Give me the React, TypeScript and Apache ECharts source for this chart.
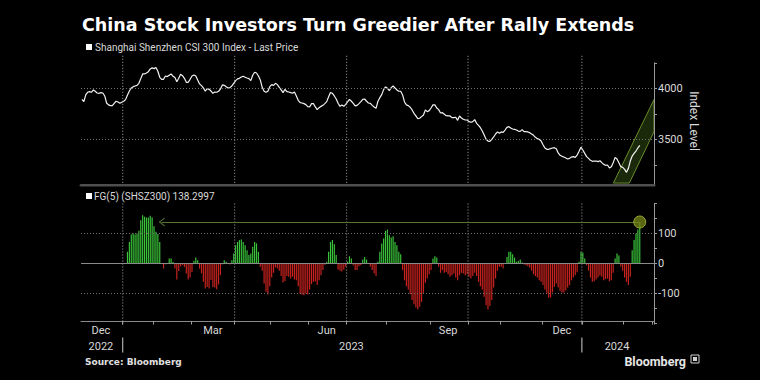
import React, { useEffect, useRef } from "react";
import * as echarts from "echarts";

const TITLE = "China Stock Investors Turn Greedier After Rally Extends";
const PRICE_LEGEND = "Shanghai Shenzhen CSI 300 Index - Last Price";
const FG_LEGEND = "FG(5) (SHSZ300) 138.2997";
const AXIS_NAME = "Index Level";
const SOURCE = "Source: Bloomberg";
const BRAND = "Bloomberg";

const FIRST_DAY = "2022-12-01";
const LAST_DAY = "2024-03-01";
const MARKET_HOLIDAYS = [
  "2023-01-02", "2023-01-23", "2023-01-24", "2023-01-25", "2023-01-26", "2023-01-27",
  "2023-04-05", "2023-05-01", "2023-05-02", "2023-05-03", "2023-06-22", "2023-06-23",
  "2023-09-29", "2023-10-02", "2023-10-03", "2023-10-04", "2023-10-05", "2023-10-06",
  "2024-01-01", "2024-02-09", "2024-02-12", "2024-02-13", "2024-02-14", "2024-02-15", "2024-02-16",
];

// CSI 300 daily close, one value per trading day from 2022-12-01
const csi300Close = [
  3892, 3869, 3935, 3961, 3967, 3961, 3984, 3971, 3954, 3951,
  3958, 3954, 3925, 3856, 3837, 3830, 3830, 3853, 3873, 3866,
  3853, 3863, 3873, 3889, 3935, 3974, 4003, 4016, 4023, 4029,
  4049, 4095, 4141, 4141, 4150, 4163, 4190, 4200, 4193, 4203,
  4167, 4108, 4088, 4088, 4121, 4115, 4128, 4141, 4118, 4105,
  4065, 4098, 4137, 4124, 4098, 4059, 4059, 4088, 4121, 4131,
  4121, 4082, 4043, 4026, 4003, 3971, 3997, 3990, 3974, 3951,
  3964, 3961, 3971, 3993, 4033, 4029, 4016, 4003, 4007, 4023,
  4049, 4075, 4092, 4098, 4111, 4118, 4108, 4101, 4095, 4075,
  4128, 4157, 4150, 4121, 4082, 4010, 3971, 3961, 3971, 4016,
  4036, 4029, 4049, 4036, 4010, 3984, 3958, 3990, 3967, 3964,
  3958, 3951, 3964, 3925, 3882, 3859, 3856, 3850, 3840, 3820,
  3817, 3850, 3850, 3817, 3791, 3810, 3823, 3833, 3850, 3869,
  3918, 3958, 3951, 3925, 3895, 3853, 3823, 3837, 3823, 3843,
  3866, 3892, 3873, 3853, 3827, 3833, 3850, 3869, 3892, 3895,
  3873, 3856, 3853, 3833, 3817, 3804, 3873, 3908, 3938, 3987,
  4013, 4000, 3977, 4007, 4023, 4003, 3984, 3971, 3971, 3935,
  3866, 3837, 3830, 3814, 3788, 3755, 3729, 3702, 3706, 3722,
  3738, 3788, 3771, 3781, 3807, 3837, 3837, 3807, 3791, 3758,
  3761, 3745, 3732, 3729, 3729, 3712, 3712, 3716, 3686, 3729,
  3709, 3696, 3689, 3689, 3673, 3667, 3673, 3693, 3657, 3637,
  3614, 3581, 3542, 3500, 3483, 3480, 3500, 3523, 3552, 3572,
  3559, 3572, 3568, 3591, 3617, 3624, 3611, 3601, 3598, 3591,
  3581, 3578, 3595, 3575, 3575, 3572, 3565, 3552, 3539, 3519,
  3506, 3500, 3483, 3447, 3415, 3402, 3402, 3408, 3415, 3418,
  3408, 3366, 3343, 3333, 3326, 3317, 3307, 3313, 3326, 3330,
  3323, 3346, 3382, 3421, 3395, 3362, 3330, 3313, 3294, 3284,
  3287, 3287, 3281, 3290, 3271, 3254, 3245, 3248, 3219, 3232,
  3271, 3323, 3307, 3271, 3232, 3225, 3205, 3176, 3215, 3287,
  3336, 3362, 3385, 3415, 3441,
];

// Fear & Greed FG(5), one value per trading day from 2022-12-01
const fearGreed5 = [
  null, null, null, null, null, null, null, null, null, null,
  null, null, null, null, null, null, null, null, null, null,
  null, null, null, null,
  39, 72, 97, 100, 97, 100, 109, 144, 161, 156,
  153, 153, 159, 153, 124, 106, 98, 72, 2, -17,
  -3, 2, 17, 17, 5, -17, -53, -25, -10, -5,
  -12, -33, -53, -47, -28, 8, 20, 11, -17, -33,
  -61, -83, -78, -83, -55, -78, -80, -86, -70, -39,
  -3, 11, 6, 1, -3, 11, 33, 61, 72, 78,
  80, 72, 61, 44, 28, 33, 56, 72, 67, 39,
  -11, -24, -67, -94, -103, -76, -47, -31, -13, -17,
  -24, -42, -63, -58, -42, -44, -50, -44, -53, -56,
  -76, -102, -104, -106, -100, -103, -87, -69, -61, -60,
  -72, -56, -39, -22, -4, 6, 39, 72, 78, 64,
  28, -20, -24, -27, -20, -11, 6, 24, 17, -6,
  -22, -22, -9, -6, 13, 22, 13, 2, -11, -22,
  -33, -42, 6, 39, 67, 83, 109, 113, 94, 87,
  91, 72, 61, 39, 31, -22, -56, -76, -87, -102,
  -122, -136, -147, -153, -144, -128, -98, -64, -50, -36,
  -22, 17, 24, 20, -11, -31, -22, -31, -28, -36,
  -44, -39, -33, -47, -56, -39, -31, -33, -39, -36,
  -44, -50, -42, -31, -42, -61, -76, -87, -111, -139,
  -153, -142, -122, -80, -50, -24, -11, -11, -17, 2,
  22, 39, 39, 31, 20, 6, 8, 13, 3, -3,
  -6, -9, -14, -24, -36, -42, -47, -56, -61, -72,
  -87, -100, -114, -113, -96, -78, -67, -80, -91, -97,
  -97, -89, -80, -72, -56, -47, -39, -29, 6, 39,
  36, 17, -6, -24, -47, -61, -59, -53, -47, -40,
  -44, -56, -52, -50, -59, -56, -31, 17, 33, 27,
  -11, -24, -47, -61, -72, -44, 44, 78, 100, 113,
  138.2997,
];

const priceLabelTicks = [3500, 4000];
const fgLabelTicks = [-100, 0, 100];
const fgDottedLines = [100, -100];
const labelMonths = ["2022-12", "2023-03", "2023-06", "2023-09", "2023-12"];
const quarterBoundaries = ["2023-01-01", "2023-04-01", "2023-07-01", "2023-10-01", "2024-01-01"];
const yearBoundaries = ["2023-01-01", "2024-01-01"];
const MONTH_NAMES = ["Jan", "Feb", "Mar", "Apr", "May", "Jun", "Jul", "Aug", "Sep", "Oct", "Nov", "Dec"];
// channel annotation corners, in [category index, index level]
const channelCorners = [[280.1, 3071], [301.5, 3890], [301.5, 3575], [288.5, 3071]];
const arrowStartIndex = 42;

const GREEN = "#3ac43a";
const RED = "#c9231f";
const OLIVE = "#577535";

function tradingDays(start: string, end: string, holidays: string[]): string[] {
  const out: string[] = [];
  const hol = new Set(holidays);
  let t = Date.parse(start + "T00:00:00Z");
  const e = Date.parse(end + "T00:00:00Z");
  while (t <= e) {
    const d = new Date(t);
    const wd = d.getUTCDay();
    const s = d.toISOString().slice(0, 10);
    if (wd !== 0 && wd !== 6 && !hol.has(s)) out.push(s);
    t += 86400000;
  }
  return out;
}

const dates = tradingDays(FIRST_DAY, LAST_DAY, MARKET_HOLIDAYS);
const firstIndexOnOrAfter = (day: string) => dates.findIndex((d) => d >= day);

function baseGraphics(): any[] {
  return [
    { type: "rect", z: 100, shape: { x: 75, y: 186.6, width: 620, height: 4.5 }, style: { fill: "#000" } },
    { type: "text", z: 101, x: 82, y: 24.5, style: { text: TITLE, fill: "#ffffff", fontFamily: "DejaVu Sans", fontWeight: "bold", fontSize: 17.5, align: "left", verticalAlign: "middle" } },
    { type: "rect", z: 101, shape: { x: 86, y: 44, width: 6, height: 6 }, style: { fill: "#ffffff" } },
    { type: "text", z: 101, x: 95, y: 47, style: { text: PRICE_LEGEND, fill: "#d9d9d9", fontFamily: "Roboto", fontSize: 10, align: "left", verticalAlign: "middle" } },
    { type: "rect", z: 101, shape: { x: 86, y: 193, width: 6, height: 6 }, style: { fill: "#ffffff" } },
    { type: "text", z: 101, x: 94, y: 196, style: { text: FG_LEGEND, fill: "#d9d9d9", fontFamily: "Roboto", fontSize: 10, align: "left", verticalAlign: "middle" } },
    { type: "text", z: 101, x: 694, y: 121, rotation: -Math.PI / 2, style: { text: AXIS_NAME, fill: "#d9d9d9", fontFamily: "Roboto", fontSize: 12, align: "center", verticalAlign: "middle" } },
    { type: "text", z: 101, x: 85, y: 362, style: { text: SOURCE, fill: "#e0e0e0", fontFamily: "DejaVu Sans", fontWeight: "bold", fontSize: 9, align: "left", verticalAlign: "middle" } },
    { type: "text", z: 101, x: 686, y: 361, style: { text: BRAND, fill: "#e6e6e6", fontFamily: "Roboto", fontWeight: "bold", fontSize: 12.5, align: "right", verticalAlign: "middle" } },
    { type: "rect", z: 101, shape: { x: 691, y: 355, width: 8, height: 8 }, style: { fill: "none", stroke: "#cfcfcf", lineWidth: 1 } },
    { type: "rect", z: 101, shape: { x: 693, y: 357, width: 4, height: 4 }, style: { fill: "#cfcfcf" } },
  ];
}

function buildOption() {
  const monthKey = (i: number) => dates[i].slice(0, 7);
  const isMonthStart = (i: number) => i > 0 && monthKey(i) !== monthKey(i - 1);

  const mid = (pred: (d: string) => boolean) => {
    const idx = dates.map((d, i) => (pred(d) ? i : -1)).filter((i) => i >= 0);
    return idx[Math.floor((idx.length - 1) / 2)];
  };
  const monthLabelIdx = new Set(labelMonths.map((m) => mid((d) => d.startsWith(m))));
  const years = Array.from(new Set(dates.map((d) => d.slice(0, 4))));
  const yearLabelIdx = new Set(years.map((y) => mid((d) => d.startsWith(y))));

  const lastIdx = fearGreed5.length - 1;
  const lastFg = fearGreed5[lastIdx] as number;

  const labelFont = { color: "#d9d9d9", fontSize: 11, fontFamily: "Roboto" };
  const dotted = { color: "#707070", type: [1, 2] as any, width: 1 };

  return {
    backgroundColor: "#000",
    animation: false,
    grid: [
      { left: 81, right: 106, top: 62.8, height: 127.5 },
      { left: 81, right: 106, top: 203.5, height: 120 },
    ],
    xAxis: [
      {
        gridIndex: 0, type: "category", data: dates, boundaryGap: true, offset: -5.3,
        axisLine: { show: true, onZero: false, lineStyle: { color: "#4f4f4f", width: 3 } },
        axisTick: { show: false }, axisLabel: { show: false }, splitLine: { show: false },
      },
      {
        gridIndex: 1, type: "category", data: dates, boundaryGap: true, offset: -2,
        axisLine: { show: true, onZero: false, lineStyle: { color: "#8a8a8a", width: 1 } },
        axisTick: { show: true, interval: (i: number) => isMonthStart(i), length: 3, lineStyle: { color: "#a0a0a0" } },
        axisLabel: {
          ...labelFont, margin: 3,
          interval: (i: number) => monthLabelIdx.has(i),
          formatter: (v: string) => MONTH_NAMES[Number(v.slice(5, 7)) - 1],
        },
        splitLine: { show: false },
      },
      {
        gridIndex: 1, type: "category", data: dates, boundaryGap: true, position: "bottom", offset: 14,
        axisLine: { show: false, onZero: false },
        axisTick: { show: false },
        axisLabel: {
          ...labelFont, margin: 3,
          interval: (i: number) => yearLabelIdx.has(i),
          formatter: (v: string) => v.slice(0, 4),
        },
        splitLine: { show: false },
      },
    ],
    yAxis: [
      {
        gridIndex: 0, type: "value", position: "right", min: 3000, max: 4250, interval: 250,
        axisLine: { show: true, lineStyle: { color: "#9a9a9a" } },
        axisTick: { show: true, length: 3, lineStyle: { color: "#9a9a9a" } },
        axisLabel: { ...labelFont, margin: 4, formatter: (v: number) => (priceLabelTicks.includes(v) ? String(v) : "") },
        splitLine: { show: false },
      },
      {
        gridIndex: 1, type: "value", position: "right", min: -200, max: 200, interval: 50,
        axisLine: { show: true, lineStyle: { color: "#9a9a9a" } },
        axisTick: { show: true, length: 3, lineStyle: { color: "#9a9a9a" } },
        axisLabel: { ...labelFont, margin: 4, formatter: (v: number) => (fgLabelTicks.includes(v) ? String(v) : "") },
        splitLine: { show: false },
      },
    ],
    series: [
      {
        type: "custom", name: "channel", xAxisIndex: 0, yAxisIndex: 0, silent: true, clip: true, z: 1,
        data: [[0, 3500]],
        renderItem: (_p: any, api: any) => {
          const band = api.size([1, 0])[0];
          const pts = channelCorners.map(([idx, val]) => {
            const base = Math.floor(idx);
            const p = api.coord([base, val]);
            return [p[0] + (idx - base) * band, p[1]];
          });
          return { type: "polygon", shape: { points: pts }, style: { fill: "#1b290b", stroke: "#6a8c2c", lineWidth: 1 } };
        },
      },
      {
        type: "line", name: PRICE_LEGEND, xAxisIndex: 0, yAxisIndex: 0, data: csi300Close,
        symbol: "none", z: 3, lineStyle: { color: "#f2f2f2", width: 1.2 },
        markLine: {
          silent: true, symbol: "none", label: { show: false }, lineStyle: dotted,
          data: priceLabelTicks.map((v) => ({ yAxis: v })),
        },
      },
      {
        type: "bar", name: FG_LEGEND, xAxisIndex: 1, yAxisIndex: 1, data: fearGreed5,
        barWidth: "62%",
        itemStyle: { color: (p: any) => (p.value >= 0 ? GREEN : RED) },
        markLine: {
          silent: true, symbol: "none", label: { show: false }, lineStyle: dotted,
          data: [
            ...fgDottedLines.map((v) => ({ yAxis: v })),
            { yAxis: 0, lineStyle: { color: "#8a8a8a", type: "solid", width: 1 } },
            [
              { coord: [dates[arrowStartIndex], lastFg], symbol: "path://M0,10 L5,0 L10,10 L8.6,10 L5,2.6 L1.4,10 Z", symbolSize: [9, 6], lineStyle: { color: OLIVE, type: "solid", width: 1 } },
              { coord: [dates[lastIdx], lastFg], symbol: "none" },
            ],
          ],
        },
        markPoint: {
          silent: true, label: { show: false },
          data: [{
            coord: [dates[lastIdx], lastFg], symbol: "circle", symbolSize: 12,
            itemStyle: { color: "rgba(112,128,22,0.8)", borderColor: "#98a833", borderWidth: 1 },
          }],
        },
      },
    ],
    graphic: baseGraphics(),
  };
}

function boundaryLines(chart: any): any[] {
  const xOf = (i: number) => chart.convertToPixel({ xAxisIndex: 1 }, dates[i]) as number;
  const band = xOf(1) - xOf(0);
  const edge = (day: string) => xOf(firstIndexOnOrAfter(day)) - band / 2;
  const yTopA = (chart.convertToPixel({ yAxisIndex: 0 }, 4250) as number) - 7;
  const yBotA = chart.convertToPixel({ yAxisIndex: 0 }, 3071) as number;
  const yTopB = chart.convertToPixel({ yAxisIndex: 1 }, 200) as number;
  const yBotB = (chart.convertToPixel({ yAxisIndex: 1 }, -200) as number) - 2;
  const dot = { stroke: "#a8a8a8", lineWidth: 1, lineDash: [1, 2] };
  const out: any[] = [];
  quarterBoundaries.forEach((d) => {
    const x = edge(d);
    out.push({ type: "line", z: 5, silent: true, shape: { x1: x, y1: yTopA, x2: x, y2: yBotA }, style: dot });
    out.push({ type: "line", z: 5, silent: true, shape: { x1: x, y1: yTopB, x2: x, y2: yBotB }, style: dot });
  });
  yearBoundaries.forEach((d) => {
    const x = edge(d);
    out.push({ type: "line", z: 5, silent: true, shape: { x1: x, y1: yBotB + 16, x2: x, y2: yBotB + 31 }, style: { stroke: "#cfcfcf", lineWidth: 1 } });
    out.push({ type: "line", z: 5, silent: true, shape: { x1: x, y1: yBotB, x2: x, y2: yBotB + 3 }, style: { stroke: "#a0a0a0", lineWidth: 1 } });
  });
  return out;
}

export default function App() {
  const ref = useRef<HTMLDivElement>(null);
  useEffect(() => {
    if (!ref.current) return;
    const chart = echarts.init(ref.current, null, { renderer: "svg" });
    chart.setOption(buildOption() as any);
    chart.setOption({ graphic: [...baseGraphics(), ...boundaryLines(chart)] } as any);
    return () => chart.dispose();
  }, []);
  return (
    <div
      ref={ref}
      style={{ position: "fixed", left: 0, top: 0, width: 760, height: 380, background: "#000" }}
    />
  );
}
